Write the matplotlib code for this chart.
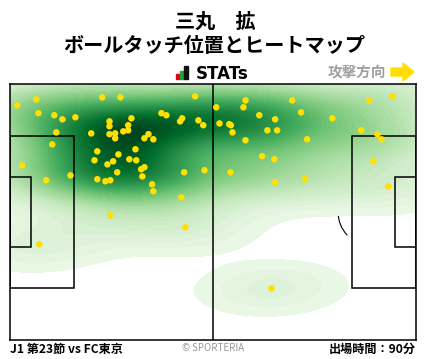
import numpy as np
import matplotlib
matplotlib.use('Agg')
import matplotlib.pyplot as plt
from matplotlib.patches import Rectangle, Arc, Polygon
from matplotlib.colors import PowerNorm

plt.rcParams['font.family'] = ['Noto Sans CJK JP', 'DejaVu Sans']

# ball touches, pitch coordinates in % (x: own goal -> attacking goal, y: top -> bottom)
touch_x = [1.8, 6.5, 7.0, 10.9, 12.9, 16.1, 22.7, 27.2, 45.6, 50.8,
           11.4, 10.4, 3.0, 8.9, 14.9, 20.0, 24.5, 24.5, 24.5, 25.9,
           25.9, 27.9, 29.1, 29.1, 29.9, 33.1, 34.1, 35.3, 37.3, 38.5,
           41.9, 42.4, 46.4, 47.6, 51.6, 21.5, 20.8, 24.0, 25.4, 26.7,
           29.4, 30.9, 31.1, 32.3, 33.1, 32.6, 26.4, 21.5, 23.5, 24.7,
           35.0, 35.3, 42.9, 47.9, 42.2, 24.7, 43.2, 7.2, 64.4, 58.0,
           57.5, 54.0, 54.4, 54.8, 58.0, 61.4, 65.3, 63.4, 65.8, 69.5,
           71.7, 73.2, 62.1, 65.1, 54.3, 65.3, 72.7, 79.4, 88.5, 94.2,
           86.5, 90.5, 91.5, 89.5, 93.2]
touch_y = [8.3, 6.0, 11.4, 12.2, 13.8, 13.0, 5.2, 5.2, 4.8, 9.1,
           18.9, 23.6, 31.8, 37.6, 35.7, 19.3, 14.6, 16.5, 19.6, 19.3,
           21.2, 18.5, 16.1, 18.1, 13.4, 21.2, 19.6, 21.6, 11.4, 12.2,
           14.6, 13.4, 14.2, 16.1, 15.4, 26.3, 29.8, 31.4, 30.2, 27.5,
           29.4, 25.5, 29.8, 33.3, 32.5, 36.1, 34.5, 37.2, 38.0, 37.6,
           39.2, 41.9, 34.5, 33.7, 44.3, 51.3, 56.0, 62.6, 79.8, 6.4,
           9.1, 15.7, 16.1, 18.9, 22.0, 12.2, 13.8, 18.1, 18.1, 6.4,
           11.1, 21.6, 28.2, 29.4, 34.5, 38.4, 37.2, 13.4, 6.4, 4.8,
           18.1, 19.6, 21.6, 30.2, 40.0]

W, H = 428, 359
fig = plt.figure(figsize=(W / 100, H / 100), dpi=100)
ax = fig.add_axes([10 / W, (H - 340) / H, 406 / W, 256 / H])

# heat map (gaussian kde, scott bandwidth)
pts = np.vstack([touch_x, touch_y])
n = pts.shape[1]
cov = np.cov(pts) * n ** (-1 / 3)
inv = np.linalg.inv(cov)
norm = 1 / (n * 2 * np.pi * np.sqrt(np.linalg.det(cov)))
gx, gy = np.meshgrid(np.linspace(0, 100, 300), np.linspace(0, 100, 220))
dens = np.zeros_like(gx)
for px, py in zip(touch_x, touch_y):
    dx, dy = gx - px, gy - py
    q = inv[0, 0] * dx * dx + 2 * inv[0, 1] * dx * dy + inv[1, 1] * dy * dy
    dens += np.exp(-0.5 * q)
dens *= norm
thresh = norm * 0.25
top = dens.max()
levels = np.linspace(thresh, top, 60)
ax.contourf(gx, gy, dens, levels=levels, cmap='Greens',
            norm=PowerNorm(gamma=0.7, vmin=thresh - 0.03 * (top - thresh), vmax=top),
            zorder=2)

# pitch
lc = 'black'
lw = 1.1
ax.add_patch(Arc((89.5, 50), 2 * 8.71, 2 * 13.46, theta1=125, theta2=235,
                 color=lc, lw=0.8, zorder=1))
ax.add_patch(Arc((10.5, 50), 2 * 8.71, 2 * 13.46, theta1=-55, theta2=55,
                 color=lc, lw=0.8, zorder=1))
for r in [Rectangle((0, 20.4), 15.7, 59.2), Rectangle((84.3, 20.4), 15.7, 59.2),
          Rectangle((0, 36.5), 5.2, 27.0), Rectangle((94.8, 36.5), 5.2, 27.0)]:
    r.set_fill(False)
    r.set_edgecolor(lc)
    r.set_linewidth(lw)
    r.set_zorder(3)
    ax.add_patch(r)
ax.plot([50, 50], [0, 100], color=lc, lw=lw, zorder=3)

ax.scatter(touch_x, touch_y, s=22, color='#ffe000', edgecolors='none', zorder=4)

ax.set_xlim(0, 100)
ax.set_ylim(100, 0)
ax.set_xticks([])
ax.set_yticks([])
for s in ax.spines.values():
    s.set_linewidth(lw)
    s.set_zorder(5)

# header
def fx(x):
    return x / W

def fy(y):
    return 1 - y / H

fig.text(fx(215), fy(21), '三丸　拡', ha='center', va='center', fontsize=14.5, fontweight='bold')
fig.text(fx(214), fy(46), 'ボールタッチ位置とヒートマップ', ha='center', va='center',
         fontsize=14.5, fontweight='bold')
for x0, x1, y0, c in [(176, 179.5, 74, '#e60012'), (180, 183.5, 71, '#22a33a'), (184, 188, 66, '#111111')]:
    fig.patches.append(Rectangle((fx(x0), fy(79)), fx(x1) - fx(x0), fy(y0) - fy(79),
                                 transform=fig.transFigure, color=c))
fig.text(fx(196), fy(74), 'STATs', ha='left', va='center', fontsize=12, fontweight='bold',
         family='DejaVu Sans')
fig.text(fx(386), fy(72), '攻撃方向', ha='right', va='center', fontsize=10.5,
         fontweight='bold', color='#a0a0a0')
arrow = [(391, 68), (403, 68), (403, 63), (414, 72), (403, 81), (403, 76), (391, 76)]
fig.patches.append(Polygon([(fx(a), fy(b)) for a, b in arrow], closed=True,
                           transform=fig.transFigure, color='#ffe000'))

# footer
fig.text(fx(10), fy(349), 'J1 第23節 vs FC東京', ha='left', va='center', fontsize=8.7,
         fontweight='bold')
fig.text(fx(213), fy(348), '© SPORTERIA', ha='center', va='center', fontsize=7,
         color='#999999')
fig.text(fx(416), fy(349), '出場時間：90分', ha='right', va='center', fontsize=8.7,
         fontweight='bold')

fig.savefig('out.png', dpi=100)
